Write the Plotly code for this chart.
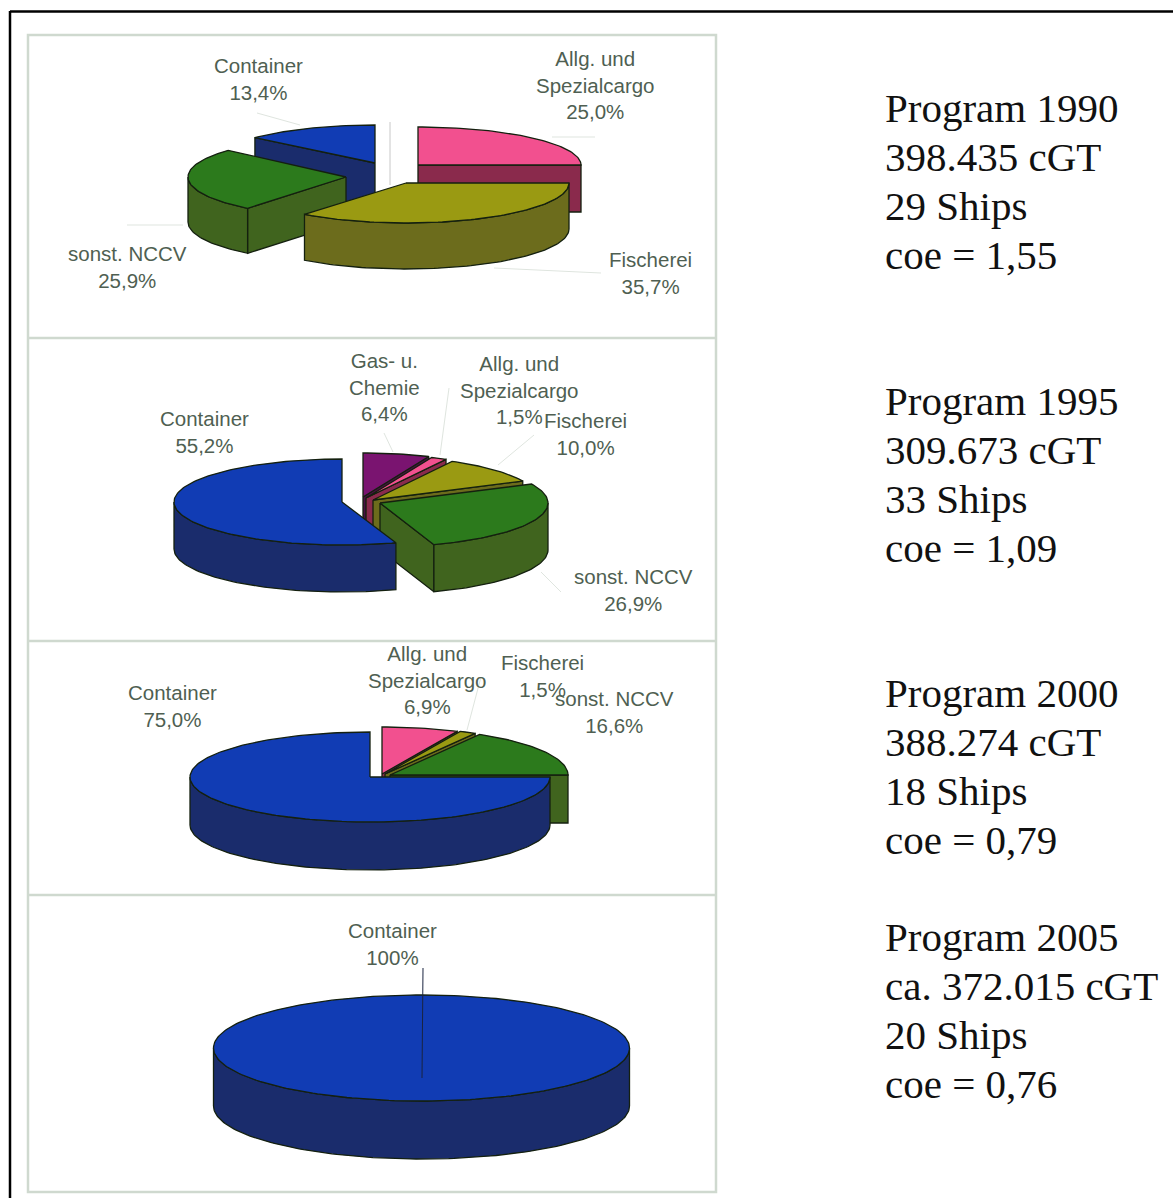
import math
import plotly.graph_objects as go

# ---- data -------------------------------------------------------------
ALLG = "Allg. und<br>Spezialcargo"
FISCH = "Fischerei"
SONST = "sonst. NCCV"
CONT = "Container"
GAS = "Gas- u.<br>Chemie"

categories_1990 = [ALLG, FISCH, SONST, CONT]
values_1990 = [25.0, 35.7, 25.9, 13.4]
categories_1995 = [GAS, ALLG, FISCH, SONST, CONT]
values_1995 = [6.4, 1.5, 10.0, 26.9, 55.2]
categories_2000 = [ALLG, FISCH, SONST, CONT]
values_2000 = [6.9, 1.5, 16.6, 75.0]
categories_2005 = [CONT]
values_2005 = [100]

programs = ["Program 1990", "Program 1995", "Program 2000", "Program 2005"]
tonnage = ["398.435 cGT", "309.673 cGT", "388.274 cGT", "ca. 372.015 cGT"]
ships = ["29 Ships", "33 Ships", "18 Ships", "20 Ships"]
coe = ["coe = 1,55", "coe = 1,09", "coe = 0,79", "coe = 0,76"]

# ---- styling / layout -------------------------------------------------
W, H = 1173, 1198
TOP = {ALLG: "#F2508F", FISCH: "#9A9A12", SONST: "#2C7A1C", CONT: "#113CB4", GAS: "#7A1470"}
SIDE = {ALLG: "#8A2A4C", FISCH: "#6C6C1C", SONST: "#40641E", CONT: "#1A2C6C", GAS: "#4A1044"}
EDGE = "#14200f"
TEXT = "#4f5f52"
PANEL = "#cfd9cf"

# per slice: centre x, centre y, rx, ry, depth
geometry = {
    0: [(418, 165, 163, 38, 47), (406, 183, 163, 40, 46), (346, 177, 158, 40, 45), (375, 163, 161, 38, 45)],
    1: [(363, 497, 168, 44, 47), (366, 498, 168, 44, 47), (373, 500, 166, 44, 47), (380, 503, 168, 44, 47), (342, 502, 168, 43, 47)],
    2: [(382, 774, 179, 47, 48), (385, 774, 179, 47, 48), (390, 775, 178, 47, 48), (370, 777, 180, 45, 48)],
    3: [(421.5, 1048, 208, 53, 58)],
}
draw_order = {0: [3, 0, 2, 1], 1: [0, 1, 2, 3, 4], 2: [0, 1, 2, 3], 3: [0]}
label_xy = {
    0: [(595, 85), (650, 273), (127, 267), (258, 79)],
    1: [(384, 387), (519, 390), (585, 434), (633, 590), (204, 432)],
    2: [(427, 680), (542, 676), (614, 712), (172, 706)],
    3: [(392, 944)],
}
leaders = [
    ((257, 113), (300, 125)), ((595, 137), (552, 137)), ((127, 225), (183, 225)), ((601, 273), (494, 268)),
    ((384, 433), (393, 452)), ((449, 388), (440, 455)), ((534, 435), (498, 465)), ((541, 572), (561, 592)),
    ((481, 677), (467, 730)),
]
block_top = [108, 401, 693, 937]
LINE_GAP = 49
all_categories = [categories_1990, categories_1995, categories_2000, categories_2005]
all_values = [values_1990, values_1995, values_2000, values_2005]


def pt(g, deg, down=0):
    cx, cy, rx, ry, _ = g
    a = math.radians(deg)
    return cx + rx * math.sin(a), cy - ry * math.cos(a) + down


def arc(g, a, b, down=0):
    n = max(2, int(abs(b - a) / 1.5))
    return [pt(g, a + (b - a) * i / n, down) for i in range(n + 1)]


fig = go.Figure()


def poly(points, color, name):
    xs = [p[0] for p in points] + [points[0][0]]
    ys = [p[1] for p in points] + [points[0][1]]
    fig.add_trace(go.Scatter(x=xs, y=ys, mode="lines", fill="toself", fillcolor=color,
                             line=dict(color=EDGE, width=1.3), name=name, showlegend=False,
                             hoverinfo="name"))


for p, (cats, vals) in enumerate(zip(all_categories, all_values)):
    spans = []
    start = 0.0
    for v in vals:
        spans.append((start, start + v * 3.6))
        start += v * 3.6
    for i in draw_order[p]:
        g = geometry[p][i]
        a, b = spans[i]
        c = cats[i]
        nm = c.replace("<br>", " ")
        d = g[4]
        apex = (g[0], g[1])
        full = b - a >= 359.9
        if not full:
            if math.sin(math.radians(a)) < -1e-6:
                r = pt(g, a)
                poly([apex, r, (r[0], r[1] + d), (apex[0], apex[1] + d)], SIDE[c], nm)
            if math.sin(math.radians(b)) > 1e-6:
                r = pt(g, b)
                poly([apex, r, (r[0], r[1] + d), (apex[0], apex[1] + d)], SIDE[c], nm)
        lo, hi = max(a, 90), min(b, 270)
        if hi > lo:
            poly(arc(g, lo, hi) + arc(g, hi, lo, d), SIDE[c], nm)
        poly(arc(g, a, b) if full else [apex] + arc(g, a, b), TOP[c], nm)
        # label
        share = vals[i]
        txt = "100%" if share == 100 else f"{share:.1f}".replace(".", ",") + "%"
        lx, ly = label_xy[p][i]
        fig.add_annotation(x=lx, y=ly, text=f"{c}<br>{txt}", showarrow=False, xanchor="center",
                           yanchor="middle", font=dict(family="Liberation Sans", size=20.5, color=TEXT))

# right-hand text
for k in range(4):
    for j, line in enumerate([programs[k], tonnage[k], ships[k], coe[k]]):
        fig.add_annotation(x=883, y=block_top[k] + j * LINE_GAP, text=line, showarrow=False,
                           xanchor="left", yanchor="middle",
                           font=dict(family="Liberation Serif", size=41, color="#111111"))

shapes = [
    dict(type="line", x0=10, x1=W, y0=11.5, y1=11.5, line=dict(color="#000", width=2.5)),
    dict(type="line", x0=10, x1=10, y0=11, y1=H, line=dict(color="#000", width=2.5)),
    dict(type="rect", x0=28, x1=716, y0=35, y1=1192, line=dict(color=PANEL, width=2.5)),
]
for yy in (338, 641, 895):
    shapes.append(dict(type="line", x0=28, x1=716, y0=yy, y1=yy, line=dict(color=PANEL, width=2.5)))
for (x0, y0), (x1, y1) in leaders:
    shapes.append(dict(type="line", x0=x0, y0=y0, x1=x1, y1=y1, layer="below", line=dict(color="#dfe5df", width=1)))
shapes.append(dict(type="line", x0=423, y0=968, x1=422, y1=1078, line=dict(color="#1a2440", width=1)))
shapes.append(dict(type="line", x0=390, y0=122, x1=390, y1=185, layer="below", line=dict(color="#c8c8c8", width=1)))
for s in shapes:
    s.update(xref="x", yref="y")

fig.update_layout(
    width=W, height=H, margin=dict(l=0, r=0, t=0, b=0), paper_bgcolor="white", plot_bgcolor="white",
    xaxis=dict(range=[0, W], visible=False, fixedrange=True),
    yaxis=dict(range=[H, 0], visible=False, fixedrange=True),
    shapes=shapes, showlegend=False,
)
fig.write_html("out.html", config={"displayModeBar": False},
               post_script="document.body.style.margin='0';document.body.style.overflow='hidden';")
